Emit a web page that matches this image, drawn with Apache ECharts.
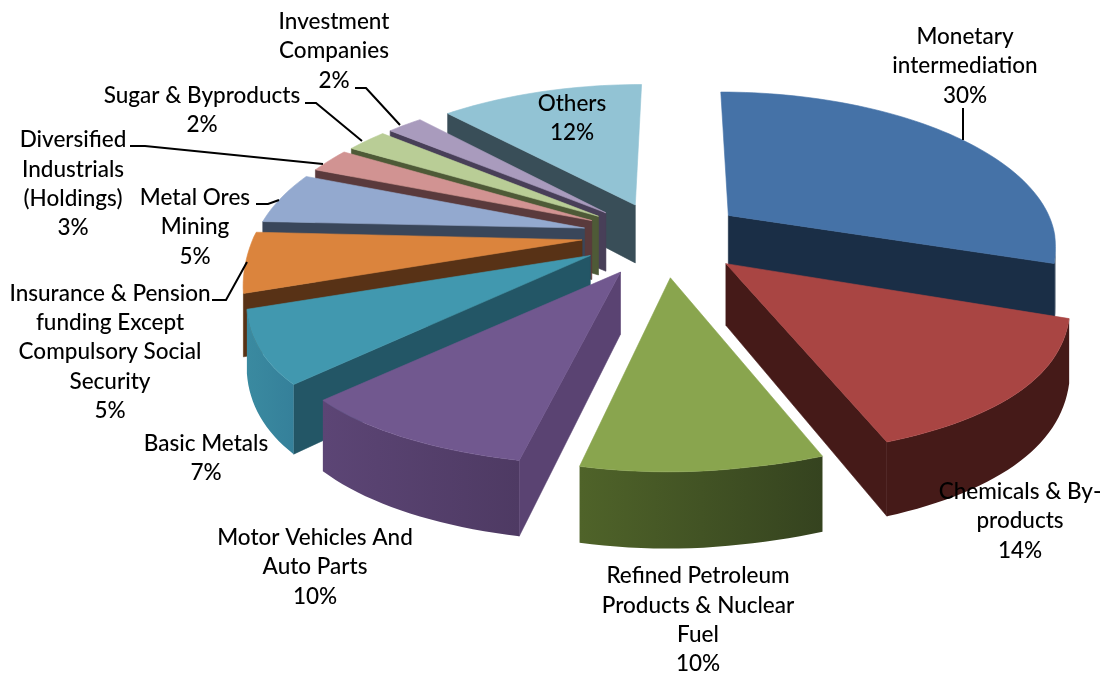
<!DOCTYPE html>
<html>
<head>
<meta charset="utf-8">
<style>
  html, body { margin: 0; padding: 0; background: #fff; }
  #main { width: 1105px; height: 675px; }
</style>
<script src="https://cdn.jsdelivr.net/npm/echarts@6/dist/echarts.min.js"></script>
</head>
<body>
<div id="main"></div>
<script>
const categories = [
  'Monetary\nintermediation',
  'Chemicals & By-\nproducts',
  'Refined Petroleum\nProducts & Nuclear\nFuel',
  'Motor Vehicles And\nAuto Parts',
  'Basic Metals',
  'Insurance & Pension\nfunding Except\nCompulsory Social\nSecurity',
  'Metal Ores\nMining',
  'Diversified\nIndustrials\n(Holdings)',
  'Sugar & Byproducts',
  'Investment\nCompanies',
  'Others'
]
// the labels show them rounded
const shares = [29.5, 14.4, 9.5, 10, 7.2, 5.1, 5.3, 2.5, 2.4, 2.1, 12]

// top face, cut face, wall left, wall right
const sliceColors = [
  ['#4572a7', '#1a2e46', '#1a2e46', '#1a2e46'],
  ['#a94543', '#451a18', '#451a18', '#451a18'],
  ['#89a54e', '#3e4d22', '#4f6329', '#35431f'],
  ['#71588f', '#5a4372', '#5c4575', '#4e3a63'],
  ['#4198af', '#235666', '#3a8aa0', '#35809a'],
  ['#db843d', '#583216', '#7a4a20', '#7a4a20'],
  ['#93a9cf', '#39465a', '#39465a', '#39465a'],
  ['#d19392', '#5a3a3c', '#5a3a3c', '#5a3a3c'],
  ['#b9cd96', '#4e5a37', '#4e5a37', '#4e5a37'],
  ['#a99bbd', '#483f58', '#483f58', '#483f58'],
  ['#92c3d4', '#394e58', '#394e58', '#394e58']
]
// label centre per slice
const labelAt = [
  [965, 66], [1020, 521], [698, 620], [315, 567], [206, 458], [110, 352],
  [195, 227], [73, 184], [202, 110], [334, 51], [572, 118]
]
const leaders = [
  [[963, 108], [963, 140]],
  null, null, null, null,
  [[212, 300], [226, 300], [247, 262]],
  [[256, 204], [268, 204], [279, 200]],
  [[130, 146], [145, 146], [323, 164]],
  [[305, 103], [316, 103], [362, 141]],
  [[355, 88], [366, 88], [400, 125]],
  null
]

// pie geometry, projected by hand because the pie has a perspective tilt
const CX = 664, CY = 235, R = 328, TILT = 0.463, PERSP = 0.179, DEPTH = 60
const EXPLODE_X = 0.25, EXPLODE_Y = 0.22
const total = shares.reduce((a, b) => a + b, 0)

function project(wx, wy, z) {
  const s = 1 / (1 - PERSP * wy)
  const sag = wy > 0 && wy < 1.2 ? 15 * Math.sin(Math.PI * wy / 1.2) : 0
  const skew = wy > 0 ? 4 * wy : 2 * wy
  return [CX - skew + R * s * wx, CY + sag + R * TILT * s * wy + DEPTH * s * z]
}
function area(p) {
  let sum = 0
  p.forEach((q, i) => {
    const n = p[(i + 1) % p.length]
    sum += q[0] * n[1] - n[0] * q[1]
  })
  return sum
}

function renderSlice(params, api) {
  const i = params.dataIndex
  const before = shares.slice(0, i).reduce((a, b) => a + b, 0)
  const a0 = before / total * Math.PI * 2
  const a1 = (before + api.value(0)) / total * Math.PI * 2
  const mid = (a0 + a1) / 2
  const ax = EXPLODE_X * Math.sin(mid), ay = -EXPLODE_Y * Math.cos(mid)
  const rim = (a, z) => project(ax + Math.sin(a), ay - Math.cos(a), z)
  const apex = (z) => project(ax, ay, z)
  const order = Math.round((1 - Math.cos(mid)) * 100) * 10
  const colors = sliceColors[i]
  const children = []
  const face = (points, fill, z2) => children.push({
    type: 'polygon',
    z2,
    shape: { points },
    style: { fill, stroke: fill, lineWidth: 0.6 }
  })

  const startCut = [apex(0), rim(a0, 0), rim(a0, 1), apex(1)]
  const endCut = [apex(0), rim(a1, 0), rim(a1, 1), apex(1)]
  if (area(startCut) < -2000) face(startCut, colors[1], order)
  if (area(endCut) > 2000) face(endCut, colors[1], order)

  const steps = Math.max(4, Math.ceil((a1 - a0) / 0.03))
  const top = [apex(0)]
  const wallUp = [], wallDown = []
  for (let k = 0; k <= steps; k++) {
    const a = a0 + (a1 - a0) * k / steps
    top.push(rim(a, 0))
    if (k < steps) {
      const b = a0 + (a1 - a0) * (k + 1) / steps
      if (area([rim(a, 0), rim(b, 0), rim(b, 1), rim(a, 1)]) < 0) {
        if (!wallUp.length) { wallUp.push(rim(a, 0)); wallDown.push(rim(a, 1)) }
        wallUp.push(rim(b, 0))
        wallDown.push(rim(b, 1))
      }
    }
  }
  if (wallUp.length) {
    const wallFill = new echarts.graphic.LinearGradient(0, 0, 1, 0, [
      { offset: 0, color: colors[2] },
      { offset: 1, color: colors[3] }
    ])
    children.push({
      type: 'polygon',
      z2: order + 1,
      shape: { points: wallUp.concat(wallDown.reverse()) },
      style: { fill: wallFill }
    })
  }
  face(top, colors[0], order + 2)

  children.push({
    type: 'text',
    z2: 5000,
    style: {
      text: `${categories[i]}\n${Math.round(api.value(0))}%`,
      x: labelAt[i][0],
      y: labelAt[i][1],
      align: 'center',
      verticalAlign: 'middle',
      fill: '#000',
      font: '500 22.5px Lato',
      lineHeight: 29.3
    }
  })
  if (leaders[i]) {
    children.push({
      type: 'polyline',
      z2: 4999,
      shape: { points: leaders[i] },
      style: { fill: 'none', stroke: '#000', lineWidth: 2 }
    })
  }
  return { type: 'group', children }
}

const chart = echarts.init(document.getElementById('main'))
chart.setOption({
  animation: false,
  backgroundColor: '#fff',
  series: [{
    type: 'custom',
    coordinateSystem: 'none',
    renderItem: renderSlice,
    data: shares.map((v) => [v])
  }]
})
</script>
</body>
</html>
